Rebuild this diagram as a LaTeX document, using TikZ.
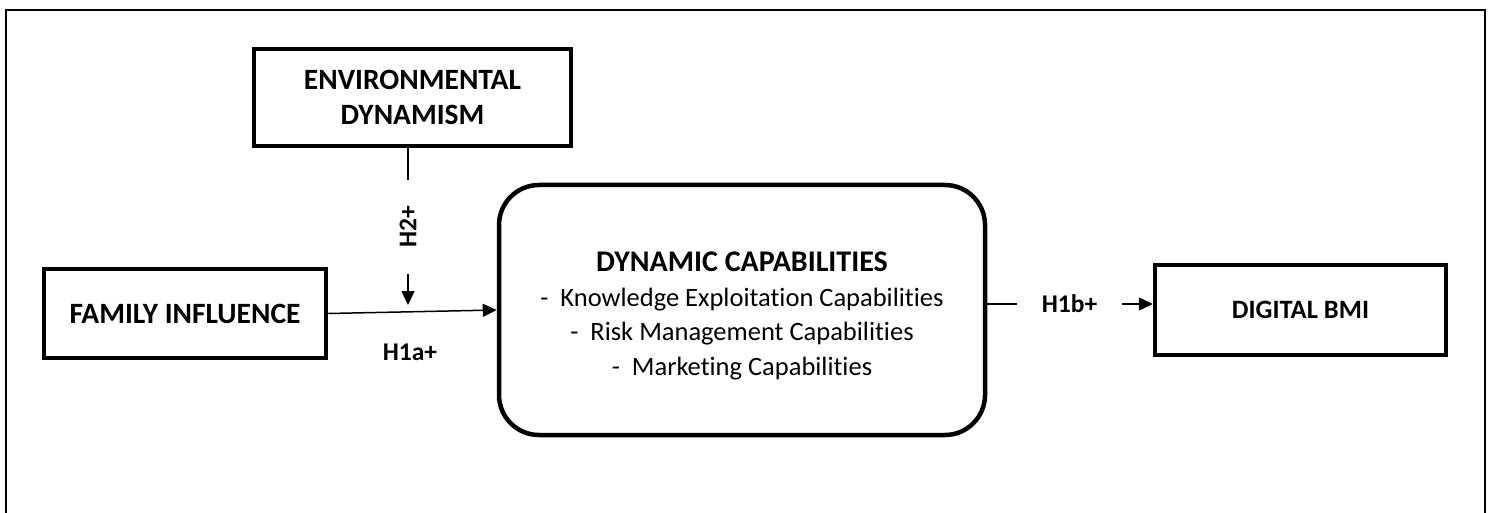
\documentclass[tikz,border=0pt]{standalone}
\usepackage{fontspec}
\setmainfont[Ligatures=NoCommon]{Carlito}
\usetikzlibrary{arrows.meta}

\begin{document}
\begin{tikzpicture}[x=1pt,y=-1pt]
				\tikzstyle{box}=[rectangle, draw, line width=4.5pt, align=center, inner sep=0pt, font=\fontsize{29.5}{35}\selectfont\bfseries]
				\tikzstyle{capbox}=[box, rounded corners=40pt, font=\fontsize{26.5}{34.5}\selectfont]
				\tikzstyle{hyp}=[font=\fontsize{25.5}{28}\selectfont\bfseries]
				\tikzstyle{link}=[line width=1.5pt]
				\tikzstyle{arr}=[link, -{Triangle[length=14pt,width=13pt]}]
				\useasboundingbox (0,0) rectangle (1491,513);
				% outer frame, open at the bottom
				\draw[line width=2pt] (6,513) -- (6,10) -- (1485,10) -- (1485,513);
				\node[box, minimum width=317pt, minimum height=97pt] (env) at (412.5,97.5) {ENVIRONMENTAL\\DYNAMISM};
				\node[box, minimum width=282pt, minimum height=89pt] (fam) at (185,313.5) {FAMILY INFLUENCE};
				\node[capbox, minimum width=486pt, minimum height=250pt] (dyn) at (742,310)
					{\rule{0pt}{32pt}\textbf{\fontsize{30}{35}\selectfont DYNAMIC CAPABILITIES}\\
					-\ \ Knowledge Exploitation Capabilities\\
					-\ \ Risk Management Capabilities\\
					-\ \ Marketing Capabilities};
				\node[box, minimum width=291pt, minimum height=90pt, font=\fontsize{26.5}{30}\selectfont\bfseries] (bmi) at (1300.5,310) {DIGITAL BMI};
				% moderation
				\node[hyp, rotate=90, inner sep=0pt, minimum width=93pt] (h2) at (408,227) {H2+};
				\coordinate (mod) at (408,305);
				\draw[link] (env.south -| h2) -- (h2.east);
				\draw[arr] (h2.west) -- (mod);
				% direct paths
				\draw[arr] (fam.east) -- (dyn.west);
				\node[hyp] (h1a) at (410,352) {H1a+};
				\node[hyp, inner sep=0pt, minimum width=105pt] (h1b) at (1069.5,304) {H1b+};
				\draw[link] (dyn.east |- h1b) -- (h1b.west);
				\draw[arr] (h1b.east) -- (bmi.west |- h1b);
			\end{tikzpicture}
\end{document}
